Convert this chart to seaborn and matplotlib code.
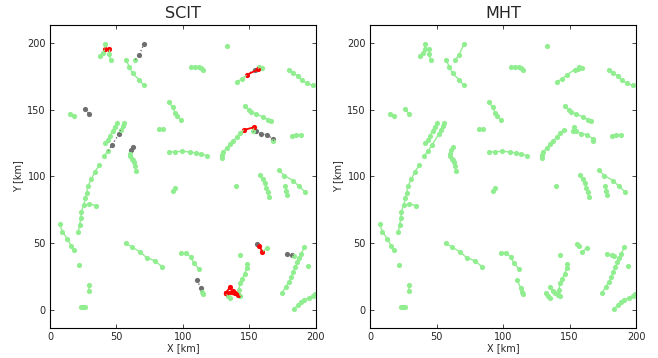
import pandas as pd
import seaborn as sns
import matplotlib.pyplot as plt

# ground-truth tracks [km], one list of (x, y) per track
tracks = [
    [(37.5, 190), (40, 192.5), (41.3, 195.7), (41.6, 199.5)],
    [(44.6, 195.7), (44.6, 191.5), (45.5, 187.5)],
    [(64.2, 187.4), (67.2, 191.3), (70.7, 199.5)],
    [(57.4, 187.2), (59.6, 182), (62.2, 177.2), (67.1, 172.3), (70.7, 168.2)],
    [(26.3, 150.4), (29.3, 147.1)],
    [(14.8, 146.7), (17.8, 145.4)],
    [(105.8, 182), (109, 182), (112, 182.2), (113.5, 181.5), (114.8, 179.7)],
    [(133.3, 198)],
    [(140.4, 171), (144.4, 173), (148.1, 176.2), (153.8, 180)],
    [(156.5, 180.2), (157.3, 182.3), (159.4, 181)],
    [(179.7, 180), (182.7, 177.7), (186.2, 175.5), (189.2, 172), (193.2, 170), (197.5, 168.2)],
    [(89.2, 155.7), (92.2, 152), (94, 147.7), (95.7, 145.4), (98.5, 142.4)],
    [(146.8, 152.7), (149.4, 149.9), (151.1, 148.4), (154.7, 146.7), (160.2, 144.7),
     (164, 142.4), (166.2, 141.4)],
    [(129.6, 113.6), (129.3, 116), (130.3, 118.6), (132.8, 120.9), (135.3, 124.4),
     (137.8, 126.3), (140.4, 129.7), (142.9, 132.4), (146.1, 134.9)],
    [(153.4, 136.8), (152.4, 133.7), (154.9, 133.9), (158.6, 132), (162.9, 131.3),
     (167.4, 128.2), (167.4, 126.5)],
    [(181.7, 130.6), (185, 130.9), (188.5, 131.2)],
    [(89.5, 118.3), (94.2, 118.4), (99.5, 118.8), (105.3, 118.2), (109.5, 117.6),
     (113.3, 117), (117.8, 115.5)],
    [(81.7, 135.7), (85, 135.4)],
    [(62.2, 122.1), (60.9, 119.7), (60.2, 117.1), (60.4, 114.9), (61.5, 113.2),
     (62.4, 112), (63.4, 110.4), (63.9, 107.4), (64.7, 104.1)],
    [(41.6, 124.8), (43.3, 127.3), (45, 130.3), (47, 134.3), (48.5, 137.3), (50.5, 140.3)],
    [(40.8, 115.6), (43.7, 119), (46.8, 123.7), (51.6, 131.4), (53.1, 135), (54.6, 137.6),
     (55.5, 139.8)],
    [(21.3, 58.6), (22.3, 63.6), (23.1, 68.6), (23.6, 73.6), (25.3, 78.8), (26.6, 83.6),
     (27.6, 87.4), (28.3, 92.4), (31.1, 97.9), (33.8, 103.6), (37.1, 108.4)],
    [(29.6, 79.4), (34.8, 77.9)],
    [(7.3, 64), (9.3, 58.6), (13, 53.3), (15.8, 48), (17.8, 44.8)],
    [(22, 33.3)],
    [(29.6, 18.8), (29.1, 14.3)],
    [(23.3, 1.8), (25, 2), (26.3, 2)],
    [(56.9, 49.8), (61.7, 47.1), (67.9, 43.1), (72.7, 39), (78.7, 36.8), (84.2, 32.3)],
    [(98.7, 42.8), (102.5, 42.8), (105.8, 39.3), (108.3, 34.8), (112, 30.5)],
    [(110.5, 22.1), (113.3, 16.5), (114.3, 13.5), (114.8, 11.6)],
    [(142.6, 40.8)],
    [(143.2, 10.5), (141.8, 14.5), (143, 19.8), (144.5, 22.8), (146.3, 26.8), (147.8, 31),
     (148, 34.5)],
    [(132, 12.3), (133.8, 10.3), (135.3, 9)],
    [(135.3, 16.8), (137.5, 14.2), (139, 12.3), (141.5, 11)],
    [(155.6, 49), (157.5, 47.6)],
    [(159.6, 43.5), (162.9, 46.3)],
    [(177.9, 41.8), (182.2, 40.8), (183.5, 40.3)],
    [(193.8, 32.5)],
    [(174.5, 12.6), (177.3, 17.3), (179.8, 21), (181.5, 24.5), (183, 28), (184.5, 31.8),
     (185.8, 35.5), (187.2, 38.5), (188.7, 41.5), (191.2, 46.7)],
    [(183.5, 0.8), (186.7, 3.5), (188.7, 5.5), (191.2, 7.5), (194.7, 8.8), (197.5, 10.5),
     (199.2, 11.5)],
    [(157.9, 101.1), (160, 98), (161.3, 94.8), (162.6, 91.5), (163.7, 88.3), (164.4, 84.8)],
    [(139.8, 93.1)],
    [(176.9, 92.6), (177.4, 89.1), (178, 86.1)],
    [(171.9, 104.7), (176.2, 100.6), (182.7, 96.8), (187.2, 92.6), (192, 88.1)],
    [(92.7, 89.1), (94.2, 91.4)],
]

# SCIT result per point: g = correct, x = missed, r = wrong association
scit_status = [
    'ggrg', 'rgg', 'gxx', 'ggggg', 'xx', 'gg', 'ggggg', 'g', 'ggrx', 'rgg', 'gggggg',
    'ggggg', 'ggggggg', 'ggggggggr', 'rgxxxxg', 'ggg', 'ggggggg', 'gg', 'xxggggggg',
    'gggggg', 'ggxxggg', 'ggggggggggg', 'gg', 'ggggg', 'g', 'gg', 'ggg', 'gggggg',
    'ggggg', 'xxgg', 'g', 'ggggggg', 'rgg', 'rrrr', 'xr', 'rg', 'xxg', 'g',
    'gggggggggg', 'ggggggg', 'gggggg', 'g', 'ggg', 'ggggg', 'gg',
]

# wrong SCIT associations
red_from = [(41.3, 195.7), (148.1, 176.2), (146.1, 134.9), (157.5, 47.6),
            (132, 12.3), (132, 12.3), (132, 12.3), (132, 12.3)]
red_to = [(44.6, 195.7), (156.5, 180.2), (153.4, 136.8), (159.6, 43.5),
          (135.3, 16.8), (137.5, 14.2), (139, 12.3), (141.5, 11)]

GREEN = '#90ee90'
GREY = '#6e6e6e'
RED = '#ff0000'

# build tables
pts_rows, seg_rows = [], []
for i, trk in enumerate(tracks):
    st = scit_status[i]
    for j, (x, y) in enumerate(trk):
        pts_rows.append(dict(x=x, y=y, scit=st[j]))
        if j > 0:
            a, b = st[j - 1], st[j]
            if 'x' in (a, b):
                kind = 'x'
            elif a == 'r' and b == 'r':
                kind = 'none'
            else:
                kind = 'g'
            px, py = trk[j - 1]
            seg = f'{i}_{j}'
            seg_rows.append(dict(seg=seg, x=px, y=py, kind=kind))
            seg_rows.append(dict(seg=seg, x=x, y=y, kind=kind))
pts = pd.DataFrame(pts_rows)
segs = pd.DataFrame(seg_rows)

red_rows = []
for k, (p, q) in enumerate(zip(red_from, red_to)):
    red_rows.append(dict(seg=k, x=p[0], y=p[1]))
    red_rows.append(dict(seg=k, x=q[0], y=q[1]))
reds = pd.DataFrame(red_rows)

trk_rows = []
for i, trk in enumerate(tracks):
    for x, y in trk:
        trk_rows.append(dict(trk=i, x=x, y=y))
full = pd.DataFrame(trk_rows)

sns.set_style('ticks', {'xtick.direction': 'in', 'ytick.direction': 'in'})
plt.rcParams['font.family'] = ['DejaVu Sans']

fig = plt.figure(figsize=(6.58, 3.58), dpi=100)
ax1 = fig.add_axes([50 / 658, 30.3 / 358, 266 / 658, 302.7 / 358])
ax2 = fig.add_axes([370 / 658, 30.3 / 358, 266 / 658, 302.7 / 358])

MS = 14
LW = 1.0

#%% SCIT
sns.lineplot(data=segs[segs.kind == 'x'], x='x', y='y', units='seg', estimator=None,
             sort=False, color=GREY, lw=LW, ls=':', ax=ax1)
sns.lineplot(data=segs[segs.kind == 'g'], x='x', y='y', units='seg', estimator=None,
             sort=False, color=GREEN, lw=LW, ax=ax1)
sns.scatterplot(data=pts[pts.scit == 'x'], x='x', y='y', color=GREY, s=MS, linewidth=0, ax=ax1)
sns.scatterplot(data=pts[pts.scit == 'g'], x='x', y='y', color=GREEN, s=MS, linewidth=0, ax=ax1)
sns.lineplot(data=reds, x='x', y='y', units='seg', estimator=None, sort=False,
             color=RED, lw=1.3, ax=ax1)
sns.scatterplot(data=reds, x='x', y='y', color=RED, s=MS, linewidth=0, ax=ax1)

#%% MHT
sns.lineplot(data=full, x='x', y='y', units='trk', estimator=None, sort=False,
             color=GREEN, lw=LW, ax=ax2)
sns.scatterplot(data=full, x='x', y='y', color=GREEN, s=MS, linewidth=0, ax=ax2)

for ax, title in [(ax1, 'SCIT'), (ax2, 'MHT')]:
    ax.set_xlim(0, 200)
    ax.set_ylim(-13.5, 213.5)
    ax.set_xticks([0, 50, 100, 150, 200])
    ax.set_yticks([0, 50, 100, 150, 200])
    ax.tick_params(top=True, right=True, labelsize=7, length=3, width=0.6, pad=3)
    ax.set_xlabel('X [km]', fontsize=7, labelpad=1)
    ax.set_ylabel('Y [km]', fontsize=7, labelpad=3)
    ax.set_title(title, fontsize=11.5, pad=5)
    for sp in ax.spines.values():
        sp.set_linewidth(0.8)
        sp.set_color('black')

fig.savefig('out.png', dpi=100)
